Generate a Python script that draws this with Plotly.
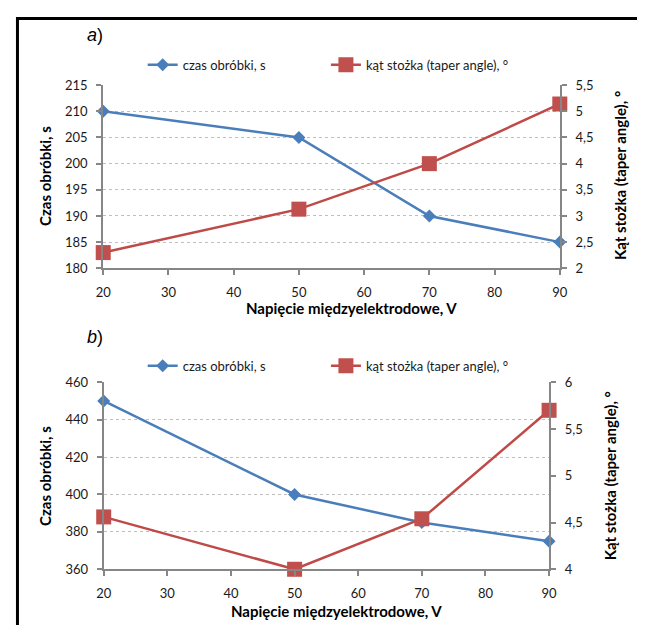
import plotly.graph_objects as go

# ---- data ----
voltage = [20, 50, 70, 90]
time_a = [210, 205, 190, 185]
angle_a = [2.3, 3.13, 4.0, 5.14]
time_b = [450, 400, 385, 375]
angle_b = [4.56, 4.0, 4.54, 5.7]

name_time = "czas obróbki, s"
name_angle = "kąt stożka (taper angle), °"
x_title = "Napięcie międzyelektrodowe, V"
y_left_title = "Czas obróbki, s"
y_right_title = "Kąt stożka (taper angle), °"

# page is 645x633; body keeps its 8px margin, so the figure fills the rest
OFF = 8
W, H = 645 - 2 * OFF, 633 - 2 * OFF
BLUE = "#4A7EBB"
RED = "#BE4B48"
AX = "#868686"
FONT = "Lato"
TXT = "#1a1a1a"

def px(x):
    return (x - OFF) / W

def py(y):
    return 1 - (y - OFF) / H

fig = go.Figure()

def add_series(xa, ya, yt, yv, leg_t, leg_v):
    fig.add_trace(go.Scatter(
        x=voltage, y=yt, name=name_time, mode="lines+markers",
        xaxis=xa, yaxis=ya[0], legend=leg_t, showlegend=True,
        line=dict(color=BLUE, width=2.5),
        marker=dict(symbol="diamond", size=10, color=BLUE),
        cliponaxis=False))
    fig.add_trace(go.Scatter(
        x=voltage, y=yv, name=name_angle, mode="lines+markers",
        xaxis=xa, yaxis=ya[1], legend=leg_v, showlegend=True,
        line=dict(color=RED, width=2.5),
        marker=dict(symbol="square", size=15, color="#C0504D"),
        cliponaxis=False))

add_series("x", ("y", "y2"), time_a, angle_a, "legend", "legend2")
add_series("x2", ("y3", "y4"), time_b, angle_b, "legend3", "legend4")

tickfont = dict(family=FONT, size=13, color=TXT)
common_y = dict(showline=True, linecolor=AX, linewidth=2, ticks="outside",
                ticklen=5, tickcolor=AX, tickwidth=1.5, tickfont=tickfont,
                ticklabelstandoff=6, zeroline=False)
common_x = dict(showline=True, linecolor=AX, linewidth=2, ticks="outside",
                ticklen=5, tickcolor=AX, tickwidth=1.5, tickfont=tickfont,
                ticklabelstandoff=6, showgrid=False, zeroline=False,
                range=[20, 90], tick0=20, dtick=10)

dom_xa = [px(97.5), px(566)]
dom_ya = [py(267), py(79)]
dom_xb = [px(98), px(555)]
dom_yb = [py(576), py(384)]

def leg(x, y):
    return dict(orientation="h", x=px(x), y=py(y), xanchor="left",
                yanchor="middle", font=dict(family=FONT, size=13, color=TXT),
                bgcolor="rgba(0,0,0,0)", borderwidth=0, visible=True,
                itemsizing="trace")

shapes = [dict(type="rect", xref="paper", yref="paper",
               x0=px(9.5), x1=1.3, y0=-0.3, y1=py(10.5),
               line=dict(color="black", width=3), fillcolor="rgba(0,0,0,0)")]

fig.update_layout(
    width=W, height=H,
    margin=dict(l=0, r=0, t=0, b=0),
    paper_bgcolor="white", plot_bgcolor="white",
    separators=", ",
    showlegend=True,
    font=dict(family=FONT, size=13, color=TXT),
    xaxis=dict(domain=dom_xa, anchor="y", **common_x),
    yaxis=dict(domain=dom_ya, anchor="x", range=[180, 215], dtick=5,
               showgrid=True, gridcolor="#BFBFBF", griddash="dot", gridwidth=1,
               **common_y),
    yaxis2=dict(overlaying="y", side="right", anchor="x", range=[2, 5.5],
                dtick=0.5, showgrid=False, **common_y),
    xaxis2=dict(domain=dom_xb, anchor="y3", **common_x),
    yaxis3=dict(domain=dom_yb, anchor="x2", range=[360, 460], dtick=20,
                showgrid=True, gridcolor="#BFBFBF", griddash="dot", gridwidth=1,
                **common_y),
    yaxis4=dict(overlaying="y3", side="right", anchor="x2", range=[4, 6],
                dtick=0.5, showgrid=False, **common_y),
    legend=leg(138, 58),
    legend2=leg(326, 58),
    legend3=leg(138, 367),
    legend4=leg(326, 367),
    shapes=shapes,
)

ann = []
def title_ann(text, x, y, angle=0, size=15):
    ann.append(dict(text="<b>" + text + "</b>", x=px(x), y=py(y),
                    xref="paper", yref="paper",
                    showarrow=False, textangle=angle, xanchor="center",
                    yanchor="middle",
                    font=dict(family=FONT, size=size, color="#000000")))

# panel a
title_ann(x_title, 352, 308)
title_ann(y_left_title, 37, 172, angle=-90)
title_ann(y_right_title, 627, 172, angle=-90)
# panel b
title_ann(x_title, 337, 619)
title_ann(y_left_title, 37, 480, angle=-90)
title_ann(y_right_title, 617, 480, angle=-90)

for lab, yy in (("a", 28), ("b", 338)):
    ann.append(dict(text="<i>" + lab + "</i>)", x=px(89), y=py(yy),
                    xref="paper", yref="paper", xanchor="center", yanchor="middle",
                    showarrow=False,
                    font=dict(family="Liberation Sans", size=18, color="#000")))
fig.update_layout(annotations=ann)

fig.write_html("out.html", config={"displayModeBar": False})
